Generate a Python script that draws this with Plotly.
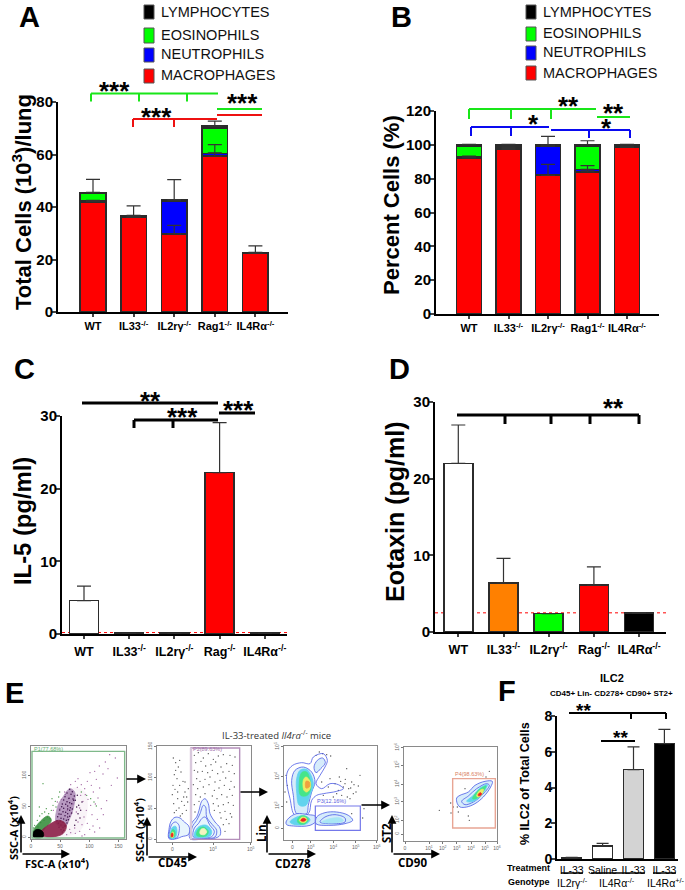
import plotly.graph_objects as go

W, H = 685, 890
GENO_A = ["WT", "IL33<sup>-/-</sup>", "IL2rγ<sup>-/-</sup>", "Rag1<sup>-/-</sup>", "IL4Rα<sup>-/-</sup>"]
GENO_C = ["WT", "IL33<sup>-/-</sup>", "IL2rγ<sup>-/-</sup>", "Rag<sup>-/-</sup>", "IL4Rα<sup>-/-</sup>"]
IDX = [0, 1, 2, 3, 4]

# Panel A: total cells
A_MAC = [42, 36, 29.8, 59.4, 22.3]
A_NEU = [0.2, 0.2, 12.5, 1.0, 0.1]
A_EOS = [3.0, 0.1, 0.1, 9.6, 0.0]
A_LYM = [0.4, 0.5, 0.4, 0.8, 0.3]
A_ERR_MAC = [0.5, 0.3, 3.2, 1.2, 0.2]
A_ERR_NEU = [0.1, 0.1, 0.2, 3.4, 0.0]
A_ERR_LYM = [4.9, 3.6, 7.6, 1.9, 2.5]

# Panel B: percent cells
B_MAC = [92.3, 97.4, 82.0, 84.0, 98.5]
B_NEU = [0.4, 1.2, 17.2, 1.5, 0.3]
B_EOS = [6.3, 0.6, 0.1, 13.7, 0.4]
B_LYM = [1.0, 0.8, 0.7, 0.8, 0.8]
B_ERR_MAC = [1.0, 0.2, 6.5, 1.0, 0.2]
B_ERR_NEU = [0.1, 0.1, 0.1, 2.2, 0.0]
B_ERR_LYM = [0.3, 0.3, 5.0, 2.4, 0.3]

# Panels C, D
C_VAL = [4.6, 0.1, 0.1, 22.2, 0.1]
C_ERR = [2.0, 0, 0, 6.9, 0]
C_COL = ["#ffffff", "#ffffff", "#ffffff", "#ff0000", "#ffffff"]
C_LOD = 0.2
D_VAL = [22.0, 6.4, 2.4, 6.1, 2.5]
D_ERR = [5.0, 3.2, 0, 2.4, 0]
D_COL = ["#ffffff", "#ff8000", "#00ff00", "#ff0000", "#000000"]
D_LOD = 2.5

# Panel F
F_IDX = [0, 1, 2, 3]
F_TREAT = ["IL-33", "Saline", "IL-33", "IL-33"]
F_VAL = [0.05, 0.72, 5.0, 6.45]
F_ERR = [0.04, 0.15, 1.27, 0.8]
F_COL = ["#ffffff", "#ffffff", "#d3d3d3", "#000000"]

# Panel E: flow cytometry, channel units
P1_PINK_X = [50, 110, 130, 170, 175, 150]
P1_PINK_Y = [280, 200, 140, 150, 220, 270]
P1_PURPLE_X = [85, 90, 105, 125, 140, 138, 125, 110]
P1_PURPLE_Y = [245, 190, 165, 140, 150, 190, 230, 255]
P1_GREEN_X = [15, 35, 60, 70, 50, 25]
P1_GREEN_Y = [270, 240, 222, 235, 260, 285]
P1_MAROON_X = [35, 60, 95, 115, 105, 60]
P1_MAROON_Y = [275, 250, 235, 250, 275, 285]
P1_BLACK_X = [16, 18, 30, 45, 45]
P1_BLACK_Y = [285, 268, 262, 270, 285]
P1_DOT_X = [245, 232, 262, 214, 200, 186, 205, 225, 240, 178, 160, 150, 190, 215, 170, 148, 172, 196, 210, 180, 158, 142, 128, 165, 188, 202, 220, 236, 250, 268, 175, 155, 135, 122, 112, 145, 168, 192, 208, 226, 130, 118, 150, 162, 178, 195, 140, 125, 110, 100, 185, 200, 215, 96, 88, 76, 155, 170, 128, 116, 142, 162]
P1_DOT_Y = [38, 60, 48, 72, 88, 92, 112, 96, 80, 118, 128, 110, 130, 138, 140, 136, 158, 150, 168, 172, 160, 118, 128, 178, 190, 186, 200, 176, 130, 108, 205, 198, 186, 170, 158, 210, 225, 218, 232, 218, 215, 205, 240, 248, 244, 252, 258, 262, 150, 172, 262, 270, 258, 200, 180, 205, 268, 278, 272, 278, 274, 282]
P1_GREEN_DOT_X = [20, 28, 35, 42, 50, 55, 62, 70, 75, 82, 48, 38, 30, 24, 16, 58, 66, 84, 92, 45, 34, 72, 95, 188, 198, 205, 176, 160]
P1_GREEN_DOT_Y = [250, 235, 222, 215, 210, 200, 215, 205, 190, 178, 235, 242, 255, 262, 258, 225, 230, 195, 165, 125, 195, 170, 150, 170, 180, 192, 160, 150]
P1_SPIRE_X = [125, 133, 117, 129, 139, 111, 123, 135, 107, 117, 125, 137, 103, 113, 119, 131, 101, 107, 119, 127, 95, 105, 113, 125, 133, 93, 99, 111, 119, 131, 89, 99, 107, 119, 125, 87, 97, 105, 115, 121, 91, 99, 111, 117, 93, 105, 111, 99, 107, 103, 142, 146, 150, 144, 152, 148, 158, 156, 162, 140]
P1_SPIRE_Y = [142, 149, 153, 157, 162, 164, 169, 171, 174, 179, 182, 175, 186, 187, 192, 185, 194, 199, 201, 197, 204, 209, 211, 205, 201, 216, 217, 221, 215, 213, 224, 229, 231, 225, 223, 236, 237, 241, 235, 233, 244, 249, 251, 243, 256, 257, 253, 263, 265, 270, 175, 195, 215, 235, 190, 160, 205, 228, 180, 250]

P2_DOT_X = [55, 62, 70, 78, 58, 66, 84, 74, 60, 90, 95, 52, 68, 80, 88, 100, 56, 72, 94, 64, 82, 98, 58, 76, 90, 68, 86, 54, 62, 74, 118, 130, 145, 160, 175, 190, 205, 225, 240, 122, 138, 152, 168, 182, 198, 215, 232, 118, 128, 142, 158, 172, 188, 204, 222, 238, 125, 135, 150, 165, 180, 195, 212, 228, 115, 128, 145, 162, 178, 192, 208, 224, 238, 122, 136, 150, 172, 186, 200, 216, 232, 118, 132, 175, 190, 205, 220, 235, 120, 178, 195, 210, 226, 198, 214, 230, 205, 222, 210]
P2_DOT_Y = [48, 62, 75, 90, 98, 110, 118, 130, 142, 150, 165, 158, 170, 178, 190, 140, 185, 198, 205, 205, 215, 180, 212, 222, 120, 150, 165, 130, 85, 55, 40, 32, 48, 35, 52, 42, 38, 40, 45, 62, 58, 72, 68, 60, 75, 65, 70, 85, 90, 88, 92, 85, 95, 90, 88, 95, 110, 118, 112, 105, 120, 115, 108, 118, 128, 140, 135, 128, 145, 138, 130, 142, 135, 158, 165, 155, 162, 170, 158, 165, 160, 188, 178, 185, 192, 188, 182, 190, 210, 205, 212, 208, 215, 228, 232, 225, 248, 245, 268]
P2_O1_X = [42, 42, 48, 60, 75, 88, 100, 104, 100, 80, 65]
P2_O1_Y = [290, 262, 238, 226, 228, 240, 250, 262, 278, 284, 290]
P2_O2_X = [44, 45, 52, 62, 72, 72, 65]
P2_O2_Y = [288, 262, 245, 240, 250, 270, 288]
P2_L_CY_X = [46, 47, 53, 62, 66, 60]
P2_L_CY_Y = [288, 268, 255, 253, 268, 288]
P2_L_GR_X = [47, 48, 54, 60, 58]
P2_L_GR_Y = [286, 272, 262, 268, 284]
P2_L_YE_X = [48, 49, 54, 56, 54]
P2_L_YE_Y = [284, 274, 270, 278, 286]
P2_L_RE_X = [49, 50, 53, 53]
P2_L_RE_Y = [284, 274, 274, 284]
P2_R1_X = [105, 105, 112, 125, 132, 140, 150, 160, 165, 180, 195, 195, 175, 140]
P2_R1_Y = [290, 262, 240, 225, 205, 178, 170, 185, 215, 240, 258, 280, 290, 292]
P2_R2_X = [110, 112, 125, 135, 145, 152, 155, 172, 185, 180, 150]
P2_R2_Y = [288, 255, 235, 215, 190, 195, 225, 248, 265, 285, 290]
P2_R3_X = [115, 118, 130, 140, 150, 165, 178, 170, 140]
P2_R3_Y = [285, 258, 245, 230, 225, 250, 268, 284, 288]
P2_R_CY_X = [118, 122, 135, 155, 170, 165, 140]
P2_R_CY_Y = [284, 265, 252, 250, 268, 282, 286]
P2_R_GR_X = [125, 130, 145, 160, 155, 140]
P2_R_GR_Y = [280, 262, 255, 268, 280, 284]
P2_R_YE_X = [135, 138, 148, 155, 148]
P2_R_YE_Y = [275, 262, 260, 270, 278]

P3_DOT_X = [128, 140, 152, 108, 118, 165, 182, 200, 215, 240, 170, 190, 206, 222, 235, 150, 178, 196, 212, 228, 160, 145, 185, 202, 220, 130, 175, 195, 210, 125, 215, 252, 248, 18, 22, 15, 20]
P3_DOT_Y = [35, 38, 42, 40, 30, 125, 118, 80, 120, 100, 155, 135, 140, 128, 132, 110, 105, 112, 138, 150, 165, 135, 160, 165, 155, 160, 145, 125, 170, 120, 215, 200, 228, 100, 130, 150, 180]
P3_U1_X = [45, 30, 20, 22, 38, 65, 90, 100, 130, 142, 135, 120, 108, 125, 150, 175, 190, 170, 130, 110, 95, 85]
P3_U1_Y = [220, 170, 120, 90, 70, 62, 65, 45, 35, 55, 75, 100, 125, 140, 125, 128, 140, 148, 155, 160, 175, 215]
P3_U2_X = [50, 40, 35, 45, 70, 95, 105, 95, 85, 80]
P3_U2_Y = [215, 160, 115, 85, 75, 90, 120, 150, 190, 215]
P3_U_CY_X = [58, 50, 50, 60, 80, 95, 100, 90, 78]
P3_U_CY_Y = [190, 150, 110, 85, 82, 105, 130, 160, 190]
P3_U_GR_X = [62, 58, 65, 80, 90, 92, 82]
P3_U_GR_Y = [160, 120, 92, 90, 115, 140, 160]
P3_U_YE_X = [72, 70, 78, 90, 90, 80]
P3_U_YE_Y = [145, 115, 105, 118, 140, 150]
P3_U_OR_X = [78, 78, 88, 88]
P3_U_OR_Y = [138, 118, 120, 135]
P3_TOP_X = [102, 112, 128, 136, 122, 108]
P3_TOP_Y = [75, 55, 48, 62, 80, 92]
P3_L1_X = [18, 30, 50, 85, 105, 110, 90, 40, 20]
P3_L1_Y = [240, 225, 215, 218, 222, 235, 250, 252, 248]
P3_L_CY_X = [30, 50, 75, 90, 80, 45]
P3_L_CY_Y = [240, 225, 222, 232, 245, 248]
P3_L_GR_X = [52, 58, 75, 85, 75, 60]
P3_L_GR_Y = [238, 224, 222, 232, 245, 246]
P3_L_YE_X = [58, 65, 78, 80, 70]
P3_L_YE_Y = [236, 226, 228, 236, 242]
P3_L_RE_X = [62, 70, 78, 70]
P3_L_RE_Y = [235, 229, 233, 238]
P3_R1_X = [108, 110, 135, 170, 205, 218, 195, 150]
P3_R1_Y = [245, 225, 212, 210, 220, 235, 245, 250]
P3_R2_X = [120, 135, 165, 195, 195, 150]
P3_R2_Y = [240, 225, 218, 228, 240, 245]
P3_R_CY_X = [125, 150, 180, 190, 160]
P3_R_CY_Y = [240, 230, 228, 236, 243]

P4_DOT_X = [118, 152, 153, 205, 208, 175, 172, 258, 268, 160, 195]
P4_DOT_Y = [205, 183, 213, 222, 235, 210, 195, 105, 88, 195, 140]
P4_O1_X = [170, 180, 205, 225, 255, 277, 272, 250, 225, 200, 180, 172]
P4_O1_Y = [168, 160, 150, 130, 118, 118, 135, 165, 185, 195, 195, 185]
P4_O2_X = [185, 205, 230, 260, 268, 245, 220, 195]
P4_O2_Y = [178, 162, 140, 125, 130, 160, 180, 188]
P4_CY_X = [200, 220, 240, 262, 245, 220]
P4_CY_Y = [178, 160, 138, 128, 158, 178]
P4_GR_X = [218, 230, 250, 258, 245, 228]
P4_GR_Y = [170, 150, 135, 132, 155, 170]
P4_YE_X = [230, 240, 250, 245, 235]
P4_YE_Y = [162, 145, 142, 158, 165]
P4_RE_X = [234, 240, 245, 240]
P4_RE_Y = [160, 152, 155, 161]

RED, GREEN, BLUE, BLACK = "#ff0000", "#00ff00", "#0000ff", "#000000"
OUT = "#2b2b2b"
FB = "Liberation Sans"
FO = "Open Sans"

fig = go.Figure()
shapes, annos = [], []


def px(x):
    return x / W


def py(y):
    return 1 - y / H


def cell_axes(n, x0, x1, ytop, ybot, c0, step, ymax, tickvals, ticktext, dtick, tsize, ysize, xstand=0):
    fig.layout[f"xaxis{n}"] = dict(
        domain=[px(x0), px(x1)], range=[(x0 - c0) / step, (x1 - c0) / step], anchor=f"y{n}",
        tickmode="array", tickvals=tickvals, ticktext=ticktext, showline=True, linecolor="#000000",
        linewidth=2, ticks="outside", ticklen=3, tickwidth=1.5, showgrid=False, zeroline=False,
        ticklabelstandoff=xstand, tickangle=0,
        tickfont=dict(family=FB, size=tsize, color="#000000", weight="bold"),
    )
    fig.layout[f"yaxis{n}"] = dict(
        domain=[py(ybot), py(ytop)], range=[0, ymax], anchor=f"x{n}", dtick=dtick, showline=True,
        linecolor="#000000", linewidth=2, ticks="outside", ticklen=4, tickwidth=2, showgrid=False,
        zeroline=False, ticklabelstandoff=-4, tickfont=dict(family=FB, size=ysize, color="#000000", weight="bold"),
    )


def seg(x0, y0, x1, y1, color="#000000", w=2):
    shapes.append(dict(type="line", xref="paper", yref="paper", x0=px(x0), x1=px(x1), y0=py(y0), y1=py(y1),
                       line=dict(color=color, width=w)))


def bracket(x0, x1, y, drops, dy, color="#000000", w=2):
    seg(x0, y, x1, y, color, w)
    for d in drops:
        seg(d, y, d, y + dy, color, w)


def txt(x, y, s, size=12, family=FB, color="#000000", bold=False, angle=0, anchor="center"):
    annos.append(dict(xref="paper", yref="paper", x=px(x), y=py(y), text=s, showarrow=False, textangle=angle,
                      xanchor=anchor, yanchor="middle",
                      font=dict(family=family, size=size, color=color, weight="bold" if bold else "normal")))


def stars(x, y, n, size=26):
    txt(x, y + size * 0.2, "*" * n, size=size, bold=True)


def arrow(x0, y0, x1, y1, w=1.6):
    annos.append(dict(xref="paper", yref="paper", axref="pixel", ayref="pixel", x=px(x1), y=py(y1), ax=x0 - x1,
                      ay=y0 - y1, text="", showarrow=True, arrowhead=2, arrowsize=1.1, arrowwidth=w,
                      arrowcolor="#000000"))


def legend(xb, ys, xt, size):
    names = ["LYMPHOCYTES", "EOSINOPHILS", "NEUTROPHILS", "MACROPHAGES"]
    cols = [BLACK, GREEN, BLUE, RED]
    for nm, col, (a, b) in zip(names, cols, ys):
        shapes.append(dict(type="rect", xref="paper", yref="paper", x0=px(xb), x1=px(xb + 10), y0=py(a), y1=py(b),
                           fillcolor=col, line=dict(color="#555555", width=1)))
        txt(xt, (a + b) / 2 - 0.5, nm, size=size, anchor="left", color="#111111")


def bars(n, vals, cols, width, base=None):
    fig.add_trace(go.Bar(x=IDX[:len(vals)], y=vals, width=width, marker=dict(color=cols, line=dict(color=OUT, width=1.6)),
                         xaxis=f"x{n}", yaxis=f"y{n}", showlegend=False))


def errs(n, xs, tops, ups, cap):
    fig.add_trace(go.Scatter(x=xs, y=tops, mode="markers", marker=dict(size=1, opacity=0), xaxis=f"x{n}", yaxis=f"y{n}",
                             showlegend=False, error_y=dict(type="data", array=ups, arrayminus=[0] * len(ups), symmetric=False,
                                                            color="#333333", thickness=1.2, width=cap)))


def stacked(n, mac, neu, eos, lym, emac, eneu, elym, width, cap):
    for v, c in zip([mac, neu, eos, lym], [RED, BLUE, GREEN, BLACK]):
        bars(n, v, c, width)
    t1 = mac
    t2 = [a + b for a, b in zip(t1, neu)]
    t4 = [a + b + c for a, b, c in zip(t2, eos, lym)]
    errs(n, IDX, t1, emac, cap)
    errs(n, IDX, t2, eneu, cap)
    errs(n, IDX, t4, elym, cap)


# ---- Panel A
cell_axes("", 58, 288, 102, 312, 93, 40.6, 80, IDX, GENO_A, 20, 11, 15)
fig.layout["xaxis"].update(anchor="y")
fig.layout["yaxis"].update(anchor="x")
stacked("", A_MAC, A_NEU, A_EOS, A_LYM, A_ERR_MAC, A_ERR_NEU, A_ERR_LYM, 0.63, 7)
legend(144, [(5, 19), (28, 43), (48, 62), (69, 83)], 159, 14.5)
bracket(91, 218, 93.5, [91, 139, 187], 8, "#19e619")
bracket(133, 217, 119, [133, 174], 8, "#ee1111")
seg(217, 109, 262, 109, "#19e619")
seg(217, 115, 262, 115, "#ee1111")
stars(115, 86, 3)
stars(156, 112, 3)
stars(243, 98, 3)
txt(22, 202, "Total Cells (10<sup>3</sup>)/lung", size=22, bold=True, angle=-90)
txt(29, 17, "A", size=29, bold=True)

# ---- Panel B
cell_axes("2", 436, 659, 111, 314, 469, 39.5, 120, IDX, GENO_A, 20, 11, 15)
stacked("2", B_MAC, B_NEU, B_EOS, B_LYM, B_ERR_MAC, B_ERR_NEU, B_ERR_LYM, 0.63, 7)
legend(526, [(5, 19), (27, 41), (46, 60), (66, 80)], 541, 14.5)
bracket(469, 596, 109, [469, 511, 551], 10, "#19e619")
seg(597, 117, 630, 117, "#19e619")
bracket(471, 549, 127, [471, 511], 9, "#0a0af0")
bracket(551, 630, 130, [589, 630], 8, "#0a0af0")
stars(568, 101, 2)
stars(613, 108, 2)
stars(533, 119, 1)
stars(606, 123, 1)
txt(391, 205, "Percent Cells (%)", size=22, bold=True, angle=-90)
txt(401, 17, "B", size=29, bold=True)

# ---- Panel C
cell_axes("3", 62, 287, 416, 634, 84, 45.2, 30, IDX, GENO_C, 10, 12.5, 15, xstand=2)
shapes.append(dict(type="line", xref="x3 domain", yref="y3", x0=0, x1=1, y0=C_LOD, y1=C_LOD, layer="below",
                   line=dict(color="#ff0000", width=1, dash="dot")))
bars("3", C_VAL, C_COL, 0.64)
errs("3", IDX, C_VAL, C_ERR, 7)
seg(82, 403, 218, 403, w=3)
bracket(134, 218, 420, [134, 173], 8, w=3)
seg(219, 413, 255, 413, w=3)
stars(150, 396, 2)
stars(182, 412, 3)
stars(238, 405, 3)
txt(22, 521, "IL-5 (pg/ml)", size=23.8, bold=True, angle=-90)
txt(24, 369, "C", size=29, bold=True)

# ---- Panel D
cell_axes("4", 435, 666, 402, 632, 458.3, 45.2, 30, IDX, GENO_C, 10, 12.5, 15, xstand=2)
shapes.append(dict(type="line", xref="x4 domain", yref="y4", x0=0, x1=1, y0=D_LOD, y1=D_LOD, layer="below",
                   line=dict(color="#ff0000", width=1, dash="dot")))
bars("4", D_VAL, D_COL, 0.64)
errs("4", IDX, D_VAL, D_ERR, 7)
bracket(457, 639, 415, [505, 551, 590, 639], 9, w=3)
stars(613, 403, 2)
txt(395, 512, "Eotaxin (pg/ml)", size=25, bold=True, angle=-90)
txt(399, 369, "D", size=29, bold=True)

# ---- Panel F
cell_axes("5", 557, 678, 716, 859, 571.7, 30.9, 8, F_IDX, F_TREAT, 2, 10.5, 14)
fig.layout["xaxis5"].update(ticks="", tickfont=dict(family=FB, size=10.5, color="#000000", weight="normal"))
fig.add_trace(go.Bar(x=F_IDX, y=F_VAL, width=0.65, marker=dict(color=F_COL, line=dict(color=OUT, width=1.5)),
                     xaxis="x5", yaxis="y5", showlegend=False))
errs("5", F_IDX, F_VAL, F_ERR, 6)
bracket(569, 666, 713, [631, 666], 6)
seg(601, 741, 635, 741)
stars(583, 707, 2, 19)
stars(620, 734, 2, 19)
txt(525, 784, "% ILC2 of Total Cells", size=12.5, bold=True, angle=-90)
txt(612, 678, "ILC2", size=11, bold=True)
txt(611, 693, "CD45+ Lin- CD278+ CD90+ ST2+", size=8, bold=True)
txt(507, 691, "F", size=29, bold=True)
txt(552, 868, "Treatment", size=9, bold=True, anchor="right")
txt(552, 882, "Genotype", size=9, bold=True, anchor="right")
txt(572, 882, "IL2rγ<sup>-/-</sup>", size=10.5)
txt(617, 882, "IL4Rα<sup>-/-</sup>", size=10.5)
txt(666, 882, "IL4Rα<sup>+/-</sup>", size=10.5)
seg(561, 873, 583, 873, w=1.5)
seg(591, 873, 645, 873, w=1.5)
seg(653, 873, 676, 873, w=1.5)


# ---- Panel E flow plots
def flow_axes(n, x0, x1, ytop, ybot, rx, ry, xt, xl, yt, yl):
    tf = dict(family=FB, size=5, color="#666666")
    fig.layout[f"xaxis{n}"] = dict(domain=[px(x0), px(x1)], range=rx, anchor=f"y{n}", showgrid=False, zeroline=False,
                                   showline=True, mirror=True, linecolor="#8a8a8a", linewidth=1, ticks="outside", ticklen=2,
                                   tickcolor="#777777", tickmode="array", tickvals=xt, ticktext=xl, tickfont=tf)
    fig.layout[f"yaxis{n}"] = dict(domain=[py(ybot), py(ytop)], range=ry, anchor=f"x{n}", showgrid=False, zeroline=False,
                                   showline=True, mirror=True, linecolor="#8a8a8a", linewidth=1, ticks="outside", ticklen=2,
                                   tickcolor="#777777", tickmode="array", tickvals=yt, ticktext=yl, tickfont=tf, tickangle=-90)


def poly(n, xs, ys, fill=None, line=None, lw=0.8, op=1.0):
    fig.add_trace(go.Scatter(x=xs + xs[:1], y=ys + ys[:1], mode="lines", xaxis=f"x{n}", yaxis=f"y{n}", showlegend=False,
                             line=dict(color=line or fill, width=lw, shape="spline", smoothing=1.0), opacity=op,
                             fill="toself" if fill else "none", fillcolor=fill))


def dots(n, xs, ys, color, size=1.4):
    fig.add_trace(go.Scatter(x=xs, y=ys, mode="markers", xaxis=f"x{n}", yaxis=f"y{n}", showlegend=False,
                             marker=dict(color=color, size=size, line=dict(width=0))))


def gate(n, x0, x1, y0, y1, color, w=1.2):
    shapes.append(dict(type="rect", xref=f"x{n}", yref=f"y{n}", x0=x0, x1=x1, y0=y0, y1=y1,
                       line=dict(color=color, width=w)))


def glabel(n, x, y, s, color):
    annos.append(dict(xref=f"x{n}", yref=f"y{n}", x=x, y=y, text=s, showarrow=False, xanchor="left", yanchor="middle",
                      font=dict(family=FB, size=5.5, color=color)))


CONT = "#4a5ae6"
PALE = "#d6ecfb"
CY, GR, YE, RE, OR = "#62d3ee", "#45e58a", "#ecec66", "#ee2222", "#f0a040"

flow_axes("6", 31, 126, 746, 839, [9, 294], [291, 12], [9, 96, 184, 271], ["0", "50", "100", "150"],
          [286, 194, 101, 11], ["0", "50", "100", "150"])
poly("6", P1_PINK_X, P1_PINK_Y, "#efe0ec", op=0.35)
dots("6", P1_DOT_X, P1_DOT_Y, "#a56aa5")
dots("6", P1_GREEN_DOT_X, P1_GREEN_DOT_Y, "#4c9a4c")
poly("6", P1_PURPLE_X, P1_PURPLE_Y, "#8a5a9a", op=0.6)
dots("6", P1_SPIRE_X, P1_SPIRE_Y, "#3c1048", 1.5)
poly("6", P1_GREEN_X, P1_GREEN_Y, "#2f8a35", op=0.85)
poly("6", P1_MAROON_X, P1_MAROON_Y, "#8c2048", op=0.9)
poly("6", P1_BLACK_X, P1_BLACK_Y, "#000000")
gate("6", 12, 290, 288, 28, "#7fb98a", 1.4)
glabel("6", 12, 22, "P1(77.68%)", "#5fae6f")

flow_axes("7", 157, 251, 746, 842, [6, 288], [300, 12], [52, 174, 287], ["0", "10<sup>3</sup>", "10<sup>5</sup>"],
          [292, 199, 107, 14], ["0", "50", "100", "150"])
dots("7", P2_DOT_X, P2_DOT_Y, "#555555")
for xs, ys in [(P2_O1_X, P2_O1_Y), (P2_R1_X, P2_R1_Y)]:
    poly("7", xs, ys, "rgba(214,236,251,0.55)", CONT)
for xs, ys in [(P2_O2_X, P2_O2_Y), (P2_R2_X, P2_R2_Y), (P2_R3_X, P2_R3_Y)]:
    poly("7", xs, ys, None, CONT)
for xs, ys, c in [(P2_L_CY_X, P2_L_CY_Y, CY), (P2_L_GR_X, P2_L_GR_Y, GR), (P2_L_YE_X, P2_L_YE_Y, YE),
                  (P2_L_RE_X, P2_L_RE_Y, RE), (P2_R_CY_X, P2_R_CY_Y, CY), (P2_R_GR_X, P2_R_GR_Y, GR),
                  (P2_R_YE_X, P2_R_YE_Y, "#f4f4c0")]:
    poly("7", xs, ys, c)
gate("7", 108, 254, 292, 18, "#b48fba", 1.4)
shapes.append(dict(type="line", xref="x7", yref="y7", x0=108, x1=108, y0=292, y1=18, line=dict(color="#d8c8dc", width=2.4)))
glabel("7", 108, 22, "P2(89.63%)", "#a070aa")

flow_axes("8", 284, 377, 746, 840, [12, 291], [294, 12], [37, 92, 160, 227, 290],
          ["0", "10<sup>3</sup>", "10<sup>4</sup>", "10<sup>5</sup>", "10<sup>6</sup>"],
          [259, 192, 104, 14], ["0", "10<sup>3</sup>", "10<sup>4</sup>", "10<sup>5</sup>"])
dots("8", P3_DOT_X, P3_DOT_Y, "#555555")
poly("8", P3_U1_X, P3_U1_Y, None, CONT)
for xs, ys in [(P3_U2_X, P3_U2_Y), (P3_TOP_X, P3_TOP_Y), (P3_L1_X, P3_L1_Y), (P3_R1_X, P3_R1_Y)]:
    poly("8", xs, ys, PALE, CONT)
poly("8", P3_R2_X, P3_R2_Y, None, CONT)
for xs, ys, c in [(P3_U_CY_X, P3_U_CY_Y, CY), (P3_U_GR_X, P3_U_GR_Y, GR), (P3_U_YE_X, P3_U_YE_Y, YE), (P3_U_OR_X, P3_U_OR_Y, OR),
                  (P3_L_CY_X, P3_L_CY_Y, CY), (P3_L_GR_X, P3_L_GR_Y, GR), (P3_L_YE_X, P3_L_YE_Y, YE), (P3_L_RE_X, P3_L_RE_Y, RE),
                  (P3_R_CY_X, P3_R_CY_Y, "#a8e6f4")]:
    poly("8", xs, ys, c)
gate("8", 106, 241, 265, 192, "#7478ea")
glabel("8", 105, 178, "P3(12.16%)", "#5a5ee0")

flow_axes("9", 404, 497, 747, 841, [12, 291], [297, 15], [15, 87, 128, 170, 213, 255, 291],
          ["0", "10<sup>1</sup>", "10<sup>2</sup>", "10<sup>3</sup>", "10<sup>4</sup>", "10<sup>5</sup>", "10<sup>6</sup>"],
          [276, 234, 179, 126, 69, 17],
          ["0", "10<sup>2</sup>", "10<sup>3</sup>", "10<sup>4</sup>", "10<sup>5</sup>", "10<sup>6</sup>"])
dots("9", P4_DOT_X, P4_DOT_Y, "#555555")
poly("9", P4_O1_X, P4_O1_Y, PALE, CONT)
poly("9", P4_O2_X, P4_O2_Y, None, CONT)
for xs, ys, c in [(P4_CY_X, P4_CY_Y, CY), (P4_GR_X, P4_GR_Y, GR), (P4_YE_X, P4_YE_Y, YE), (P4_RE_X, P4_RE_Y, RE)]:
    poly("9", xs, ys, c)
gate("9", 158, 286, 258, 110, "#e8a594", 1.4)
glabel("9", 160, 95, "P4(98.63%)", "#d8805f")

for (cx, cy, ux, ry) in [(21, 854, 815, 70), (147, 857, 817, 197), (267, 854, 815, 316), (392, 854, 815, 440)]:
    arrow(cx, cy, cx, ux)
    arrow(cx, cy, ry, cy)
arrow(125, 779, 146, 779)
arrow(239, 792, 268, 792)
arrow(360, 805, 390, 805)

txt(13, 828, "SSC-A (x10<sup>4</sup>)", size=11, family=FO, bold=True, angle=-90)
txt(139, 830, "SSC-A (x10<sup>4</sup>)", size=11, family=FO, bold=True, angle=-90)
txt(57, 863, "FSC-A (x10<sup>4</sup>)", size=11, family=FO, bold=True)
txt(172, 862, "CD45", size=11.5, family=FO, bold=True)
txt(293, 863, "CD278", size=11.5, family=FO, bold=True)
txt(412, 862, "CD90", size=11.5, family=FO, bold=True)
txt(261, 833, "Lin", size=11.5, family=FO, bold=True, angle=-90)
txt(386, 833, "ST2", size=11.5, family=FO, bold=True, angle=-90)
txt(276, 735, "IL-33-treated <i>Il4ra</i><sup>-/-</sup> mice", size=9.5, family=FO, color="#333333")
txt(14, 693, "E", size=29, bold=True)

fig.update_layout(width=W, height=H, autosize=False, margin=dict(l=0, r=0, t=0, b=0, autoexpand=False), barmode="stack",
                  paper_bgcolor="#ffffff", plot_bgcolor="rgba(0,0,0,0)", shapes=shapes, annotations=annos, showlegend=False)
fig.write_html("out.html", config={"displayModeBar": False},
               post_script="document.body.style.margin='0';document.documentElement.style.overflow='hidden';")
